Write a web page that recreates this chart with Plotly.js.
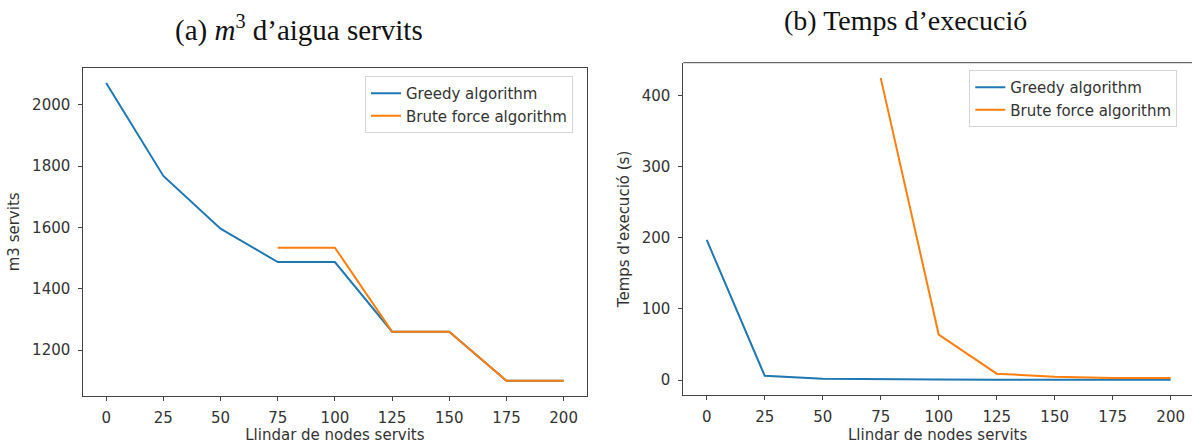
<!DOCTYPE html>
<html>
<head>
<meta charset="utf-8">
<script src="https://cdn.plot.ly/plotly-3.0.1.min.js"></script>
<style>html,body{margin:0;padding:0;background:#fff;}#chart{width:1192px;height:444px;}</style>
</head>
<body>
<div id="chart"></div>
<script>
// ---- data ----
const thresholds = [0, 25, 50, 75, 100, 125, 150, 175, 200];
const bruteThresholds = [75, 100, 125, 150, 175, 200];
const greedyWater = [2071, 1768, 1596, 1487, 1487, 1260, 1260, 1100, 1100];
const bruteWater = [1534, 1534, 1260, 1260, 1100, 1100];
const greedyTime = [197, 6, 2, 1, 0.8, 0.6, 0.5, 0.5, 0.5];
const bruteTime = [425, 64, 9, 4.5, 3, 3];
const seriesNames = ['Greedy algorithm', 'Brute force algorithm'];
const titleA = '(a) <i>m</i><sup>3</sup> d’aigua servits';
const titleB = '(b) Temps d’execució';
const xTitle = 'Llindar de nodes servits';
const yTitleA = 'm3 servits';
const yTitleB = "Temps d'execució (s)";

const blue = '#1f77b4', orange = '#ff7f0e';
const W = 1192, H = 444;
const px = v => v / W, py = v => (H - v) / H;
const FS = 15;
const txt = '#333';

const traces = [
  {x: thresholds, y: greedyWater, name: seriesNames[0], type: 'scatter', mode: 'lines',
   line: {color: blue, width: 2}, xaxis: 'x', yaxis: 'y', legend: 'legend'},
  {x: bruteThresholds, y: bruteWater, name: seriesNames[1], type: 'scatter', mode: 'lines',
   line: {color: orange, width: 2}, xaxis: 'x', yaxis: 'y', legend: 'legend'},
  {x: thresholds, y: greedyTime, name: seriesNames[0], type: 'scatter', mode: 'lines',
   line: {color: blue, width: 2}, xaxis: 'x2', yaxis: 'y2', legend: 'legend2'},
  {x: bruteThresholds, y: bruteTime, name: seriesNames[1], type: 'scatter', mode: 'lines',
   line: {color: orange, width: 2}, xaxis: 'x2', yaxis: 'y2', legend: 'legend2'}
];

const tickFont = {family: 'DejaVu Sans', size: FS, color: txt};
const titleFont = {family: 'DejaVu Sans', size: FS, color: txt};
const axCommon = {
  showgrid: false, zeroline: false, showline: true, linecolor: '#444', linewidth: 1,
  ticks: 'outside', ticklen: 4, tickcolor: '#444', tickfont: tickFont, fixedrange: true
};

const layout = {
  width: W, height: H,
  margin: {l: 0, r: 0, t: 0, b: 0},
  paper_bgcolor: '#fff', plot_bgcolor: '#fff',
  font: {family: 'DejaVu Sans', color: txt},
  xaxis: Object.assign({}, axCommon, {
    domain: [px(83.3), px(586.5)], range: [-10, 210], tickvals: thresholds, mirror: true,
    anchor: 'y', ticklabelstandoff: 4,
    title: {text: xTitle, font: titleFont, standoff: 4}
  }),
  yaxis: Object.assign({}, axCommon, {
    domain: [py(395.7), py(68)], range: [1051, 2120], tickvals: [1200, 1400, 1600, 1800, 2000],
    mirror: true, anchor: 'x', ticklabelstandoff: 5,
    title: {text: yTitleA, font: titleFont, standoff: 8}
  }),
  xaxis2: Object.assign({}, axCommon, {
    domain: [px(683.3), 1], range: [-10.1, 209.2], tickvals: thresholds, anchor: 'y2',
    ticklabelstandoff: 4,
    title: {text: xTitle, font: titleFont, standoff: 4}
  }),
  yaxis2: Object.assign({}, axCommon, {
    domain: [py(395.2), py(62.7)], range: [-21.3, 446.3], tickvals: [0, 100, 200, 300, 400],
    anchor: 'x2', ticklabelstandoff: 5,
    title: {text: yTitleB, font: titleFont, standoff: 8}
  }),
  shapes: [
    {type: 'line', xref: 'x2 domain', yref: 'y2 domain', x0: 0, x1: 1, y0: 1, y1: 1,
     line: {color: '#444', width: 1}}
  ],
  legend: {
    x: px(365), y: py(76), xanchor: 'left', yanchor: 'top',
    bgcolor: 'rgba(255,255,255,0.9)', bordercolor: '#d5d5d5', borderwidth: 1,
    font: {family: 'DejaVu Sans', size: FS, color: txt}, itemwidth: 30
  },
  legend2: {
    x: px(969.3), y: py(70), xanchor: 'left', yanchor: 'top',
    bgcolor: 'rgba(255,255,255,0.9)', bordercolor: '#d5d5d5', borderwidth: 1,
    font: {family: 'DejaVu Sans', size: FS, color: txt}, itemwidth: 30
  },
  annotations: [
    {text: titleA, xref: 'paper', yref: 'paper', x: px(299), y: py(28), xanchor: 'center', yanchor: 'middle',
     showarrow: false, font: {family: 'Liberation Serif', size: 29, color: '#111'}},
    {text: titleB, xref: 'paper', yref: 'paper', x: px(905), y: py(21), xanchor: 'center', yanchor: 'middle',
     showarrow: false, font: {family: 'Liberation Serif', size: 28, color: '#111'}}
  ]
};

Plotly.newPlot('chart', traces, layout, {displayModeBar: false, staticPlot: true});
</script>
</body>
</html>
